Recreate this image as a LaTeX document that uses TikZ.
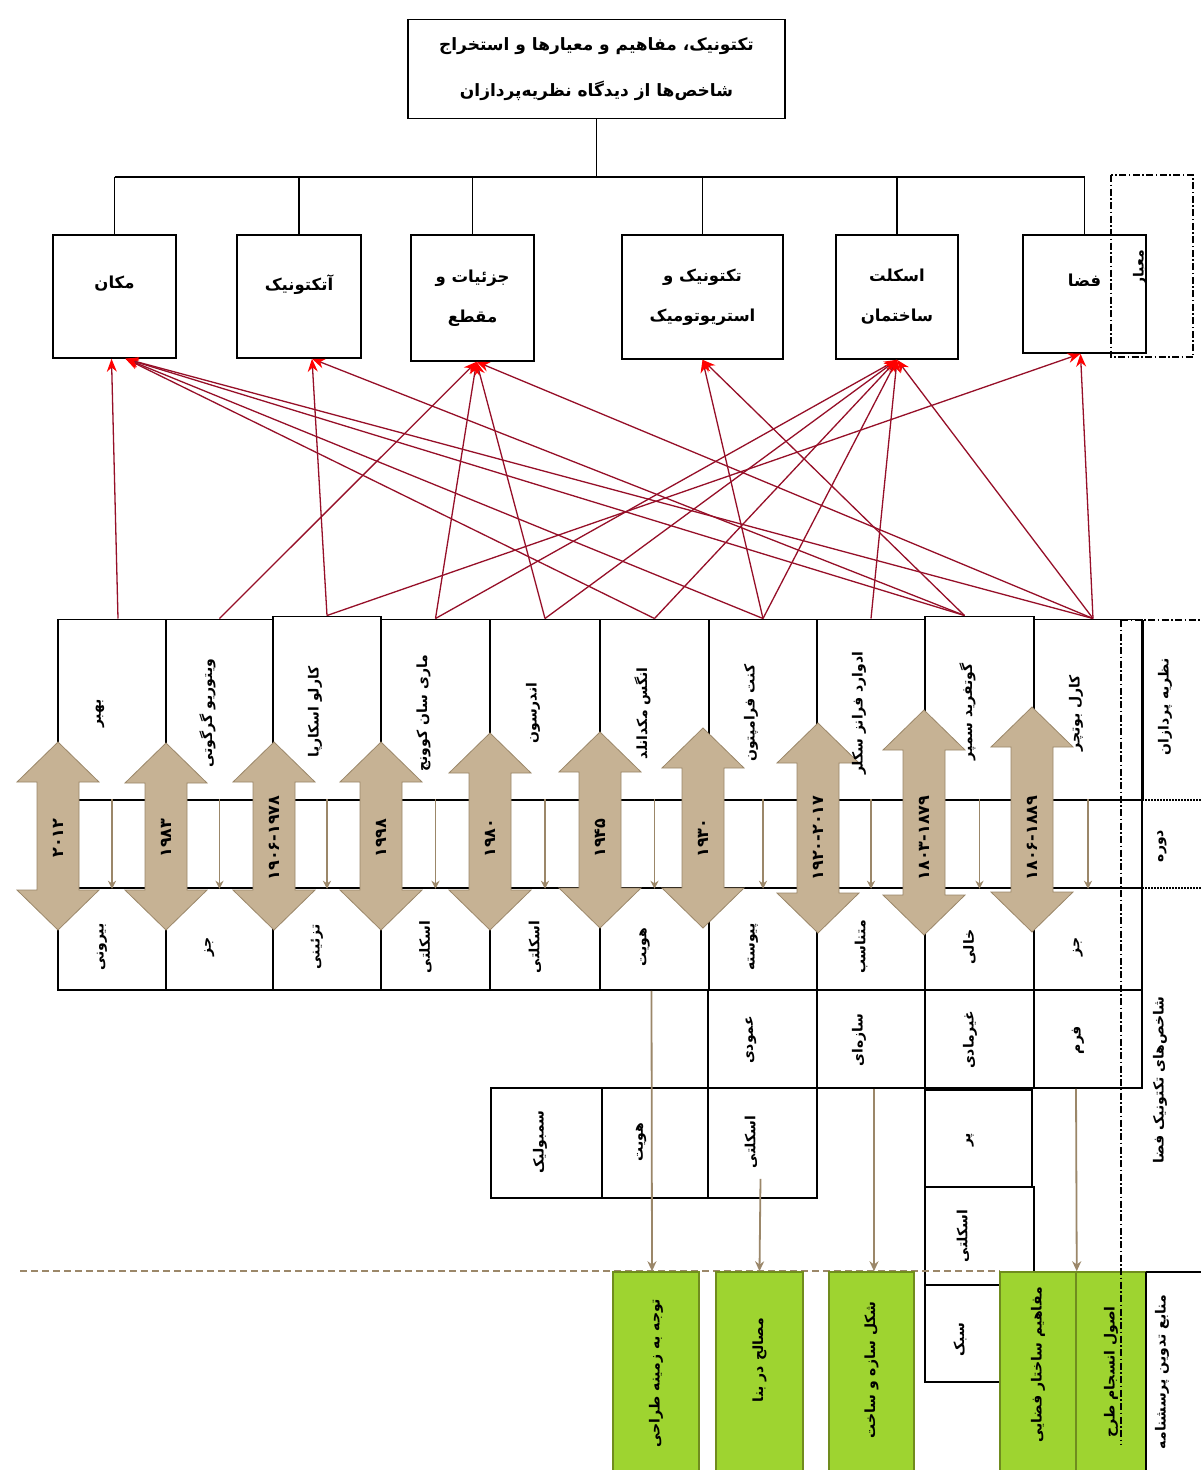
\documentclass[tikz,border=0pt]{standalone}
\usepackage{fontspec}
\usetikzlibrary{arrows.meta}
\TeXXeTstate=1
\newfontfamily\fafont[Script=Arabic]{DejaVu Sans}
\newfontfamily\numfont{DejaVu Sans}
\newcommand{\ptxt}[1]{\beginR #1\endR}
\definecolor{tanfill}{RGB}{198,178,148}
\definecolor{tanline}{RGB}{155,135,105}
\definecolor{redline}{RGB}{150,15,40}
\definecolor{greenfill}{RGB}{158,212,48}
\definecolor{greenline}{RGB}{112,140,30}
\tikzset{
	box/.style={draw, line width=1.5pt, inner sep=0pt},
	critbox/.style={box, align=center, font=\fafont\bfseries\fontsize{16.5pt}{40pt}\selectfont},
	vlabel/.style={rotate=90, inner sep=1pt, font=\fafont\bfseries\fontsize{14pt}{16pt}\selectfont},
	datelabel/.style={rotate=90, inner sep=1pt, font=\numfont\bfseries\fontsize{16pt}{18pt}\selectfont},
	greenbox/.style={draw=greenline, fill=greenfill, line width=1.5pt, minimum height=200pt, inner sep=0pt},
	redarr/.style={draw=redline, line width=1.3pt, -{Stealth[length=13pt,width=10pt,red]}},
	tanarr/.style={draw=tanline, line width=1.8pt, -{Stealth[length=10pt,width=9pt]}},
	thinarr/.style={draw=tanline, line width=1.2pt, -{Stealth[length=8pt,width=8pt]}},
	ddline/.style={line width=1.3pt, dash pattern=on 7pt off 2.5pt on 1.5pt off 2.5pt},
}
\begin{document}
\begin{tikzpicture}[x=1pt,y=-1pt]
	\useasboundingbox (0,0) rectangle (1201,1470);
	\fill[white] (0,0) rectangle (1201,1470);

	% title and criteria
	\node[box, minimum width=377pt, minimum height=99pt, align=center,
		font=\fafont\bfseries\fontsize{17pt}{20pt}\selectfont] (title) at (596.5,69)
		{\ptxt{تکتونیک، مفاهیم و معیارها و استخراج}\\[26pt]\ptxt{شاخص‌ها از دیدگاه نظریه‌پردازان}};
	\node[critbox, text depth=28pt, minimum width=123pt, minimum height=123pt] (c1) at (114.5,296.5) {\ptxt{مکان}};
	\node[critbox, text depth=28pt, minimum width=124pt, minimum height=123pt] (c2) at (299,296.5) {\ptxt{آتکتونیک}};
	\node[critbox, minimum width=123pt, minimum height=126pt] (c3) at (472.5,298) {\ptxt{جزئیات و}\\\ptxt{مقطع}};
	\node[critbox, minimum width=161pt, minimum height=124pt] (c4) at (702.5,297) {\ptxt{تکتونیک و}\\\ptxt{استریوتومیک}};
	\node[critbox, minimum width=122pt, minimum height=124pt] (c5) at (897,297) {\ptxt{اسکلت}\\\ptxt{ساختمان}};
	\node[critbox, text depth=28pt, minimum width=123pt, minimum height=118pt] (c6) at (1084.5,294) {\ptxt{فضا}};
	\coordinate (bus) at (596.5,177);
	\draw[line width=1.5pt] (title.south) -- (bus);
	\draw[line width=1.5pt] (c1.north |- bus) -- (c6.north |- bus);
	\foreach \k in {1,...,6}
		\draw[line width=1.5pt] (c\k.north) -- (c\k.north |- bus);
	\draw[ddline] (1111,175) rectangle (1193,357);
	\node[vlabel] (lcrit) at (1140,268) {\ptxt{معیار}};

	% theorists, periods, first row of indicators
	\foreach \k/\cx/\w/\h in {1/112/108/180, 2/219.5/107/180, 3/327/108/183, 4/435.5/109/180,
		5/545/110/180, 6/654.5/109/180, 7/763/108/180, 8/871/108/180, 9/979.5/109/183, 10/1088/108/180}{
		\node[box, anchor=south, minimum width=\w pt, minimum height=\h pt] (t\k) at (\cx,800) {};
		\node[box, minimum width=\w pt, minimum height=88pt] (p\k) at (\cx,844) {};
		\node[box, minimum width=\w pt, minimum height=102pt] (i\k) at (\cx,939) {};
	}
	\foreach \cx/\yt/\yb/\dt [count=\k] in {58/742/930/۲۰۱۲, 166/743/930/۱۹۸۳, 274/742/930/۱۹۰۶-۱۹۷۸,
		381/742/930/۱۹۹۸, 490/733/930/۱۹۸۰, 600/732/928/۱۹۴۵, 703/728/928/۱۹۳۰,
		818/723/933/۱۹۲۰-۲۰۱۷, 924/710/935/۱۸۰۳-۱۸۷۹, 1032/707/932/۱۸۰۶-۱۸۸۹}{
		\draw[fill=tanfill, draw=tanline, line width=0.8pt]
		(\cx,\yt) -- (\cx+41,\yt+40) -- (\cx+21,\yt+40) --
		(\cx+21,\yb-40) -- (\cx+41,\yb-40) -- (\cx,\yb) --
		(\cx-41,\yb-40) -- (\cx-21,\yb-40) -- (\cx-21,\yt+40) --
		(\cx-41,\yt+40) -- cycle;
		\node[datelabel] (d\k) at (\cx,838) {\dt};
	}
	\foreach \k in {1,...,10}
		\draw[thinarr] (p\k.north) -- (p\k.south);
	\foreach \k/\nm/\ind in {1/بهبر/بیرونی, 2/ویتوریو گرگوتی/جز, 3/کارلو اسکارپا/تزئینی,
		4/ماری سان کوونج/اسکلتی, 5/اندرسون/اسکلتی, 6/انگس مکدانلد/هویت,
		7/کنت فرامپتون/پیوسته, 8/ادوارد فرانز سکلر/متناسب, 9/گوتفرید سمپر/خالی, 10/کارل بوتچر/جز}{
		\node[vlabel] (n\k) at ([xshift=-12pt,yshift=-4pt]t\k.center) {\ptxt{\nm}};
		\node[vlabel] (w\k) at ([xshift=-10pt,yshift=-8pt]i\k.center) {\ptxt{\ind}};
	}

	% further indicators
	\node[box, minimum width=109pt, minimum height=98pt] (r2c7) at (762.5,1039) {};
	\node[box, minimum width=108pt, minimum height=98pt] (r2c8) at (871,1039) {};
	\node[box, minimum width=109pt, minimum height=98pt] (r2c9) at (979.5,1039) {};
	\node[box, minimum width=108pt, minimum height=98pt] (r2c10) at (1088,1039) {};
	\node[box, minimum width=111pt, minimum height=110pt] (r3c5) at (546.5,1143) {};
	\node[box, minimum width=106pt, minimum height=110pt] (r3c6) at (655,1143) {};
	\node[box, minimum width=109pt, minimum height=110pt] (r3c7) at (762.5,1143) {};
	\node[box, minimum width=107pt, minimum height=97pt] (r3c9) at (978.5,1138.5) {};
	\node[box, minimum width=109pt, minimum height=98pt] (r4c9) at (979.5,1236) {};
	\node[box, minimum width=109pt, minimum height=97pt] (r5c9) at (979.5,1333.5) {};
	\node[vlabel] (x27) at (751,1040) {\ptxt{عمودی}};
	\node[vlabel] (x28) at (859,1040) {\ptxt{سازه‌ای}};
	\node[vlabel] (x29) at (970,1040) {\ptxt{غیرمادی}};
	\node[vlabel] (x210) at (1078,1040) {\ptxt{فرم}};
	\node[vlabel] (x35) at (540,1142) {\ptxt{سمبولیک}};
	\node[vlabel] (x36) at (641,1142) {\ptxt{هویت}};
	\node[vlabel] (x37) at (751,1142) {\ptxt{اسکلتی}};
	\node[vlabel] (x39) at (970,1140) {\ptxt{پر}};
	\node[vlabel] (x49) at (963,1236) {\ptxt{اسکلتی}};
	\node[vlabel] (x59) at (960,1340) {\ptxt{سبک}};

	% sources
	\draw[draw=tanline, line width=1.3pt, dash pattern=on 7pt off 4pt] (20,1271) -- (1000,1271);
	\node[greenbox, minimum width=86pt] (g1) at (656,1372) {};
	\node[greenbox, minimum width=87pt] (g2) at (759.5,1372) {};
	\node[greenbox, minimum width=85pt] (g3) at (871.5,1372) {};
	\node[greenbox, minimum width=76pt] (g4) at (1038,1372) {};
	\node[greenbox, minimum width=70pt] (g5) at (1111,1372) {};
	\node[vlabel] (s1) at (656,1373) {\ptxt{توجه به زمینه طراحی}};
	\node[vlabel] (s2) at (759.5,1360) {\ptxt{مصالح در بنا}};
	\node[vlabel] (s3) at (871.5,1370) {\ptxt{شکل سازه و ساخت}};
	\node[vlabel] (s4) at (1038,1365) {\ptxt{مفاهیم ساختار فضایی}};
	\node[vlabel] (s5) at (1111,1372) {\ptxt{اصول انسجام طرح}};
	\draw[tanarr] ([xshift=-3pt]i6.south) -- ([xshift=-4pt]g1.north);
	\draw[tanarr] ([xshift=-2pt,yshift=20pt]r3c7.south) -- (g2.north);
	\draw[tanarr] ([xshift=3pt]r2c8.south) -- ([xshift=2.5pt]g3.north);
	\draw[tanarr] ([xshift=-12pt]r2c10.south) -- (g4.north east);

	% right hand labels
	\draw[ddline] (1121,620) -- (1121,1445);
	\draw[ddline] (1121,620) -- (1201,620);
	\draw[line width=1.5pt] (1143,620) -- (1143,800);
	\draw[line width=2pt, densely dotted] (1121,800) -- (1201,800);
	\draw[line width=2pt, densely dotted] (1121,888) -- (1201,888);
	\draw[line width=1.5pt] (1146,1272) -- (1201,1272);
	\draw[line width=1.5pt] (1146,1272) -- (1146,1470);
	\node[vlabel] (lth) at (1165,707) {\ptxt{نظریه پردازان}};
	\node[vlabel] (lper) at (1162,846) {\ptxt{دوره}};
	\node[vlabel] (lind) at (1160,1080) {\ptxt{شاخص‌های تکتونیک فضا}};
	\node[vlabel] (lsrc) at (1162,1372) {\ptxt{منابع تدوین پرسشنامه}};

	% theorists to criteria
	\draw[redarr] ([xshift=6pt]t1.north) -- ([xshift=-3pt]c1.south);
	\draw[redarr] (t2.north) -- ([xshift=4pt]c3.south);
	\draw[redarr] (t3.north) -- ([xshift=13pt]c2.south);
	\draw[redarr] (t3.north) -- ([xshift=-4pt]c6.south);
	\draw[redarr] (t4.north) -- ([xshift=4pt]c3.south);
	\draw[redarr] (t4.north) -- (c5.south);
	\draw[redarr] (t5.north) -- ([xshift=4pt]c3.south);
	\draw[redarr] (t5.north) -- (c5.south);
	\draw[redarr] (t6.north) -- ([xshift=11pt]c1.south);
	\draw[redarr] (t6.north) -- (c5.south);
	\draw[redarr] (t7.north) -- ([xshift=11pt]c1.south);
	\draw[redarr] (t7.north) -- (c4.south);
	\draw[redarr] (t7.north) -- (c5.south);
	\draw[redarr] (t8.north) -- (c5.south);
	\draw[redarr] ([xshift=-15pt]t9.north) -- ([xshift=11pt]c1.south);
	\draw[redarr] ([xshift=-15pt]t9.north) -- ([xshift=13pt]c2.south);
	\draw[redarr] ([xshift=-15pt]t9.north) -- (c4.south);
	\draw[redarr] ([xshift=5pt]t10.north) -- ([xshift=11pt]c1.south);
	\draw[redarr] ([xshift=5pt]t10.north) -- ([xshift=4pt]c3.south);
	\draw[redarr] ([xshift=5pt]t10.north) -- (c5.south);
	\draw[redarr] ([xshift=5pt]t10.north) -- ([xshift=-4pt]c6.south);
\end{tikzpicture}
\end{document}
